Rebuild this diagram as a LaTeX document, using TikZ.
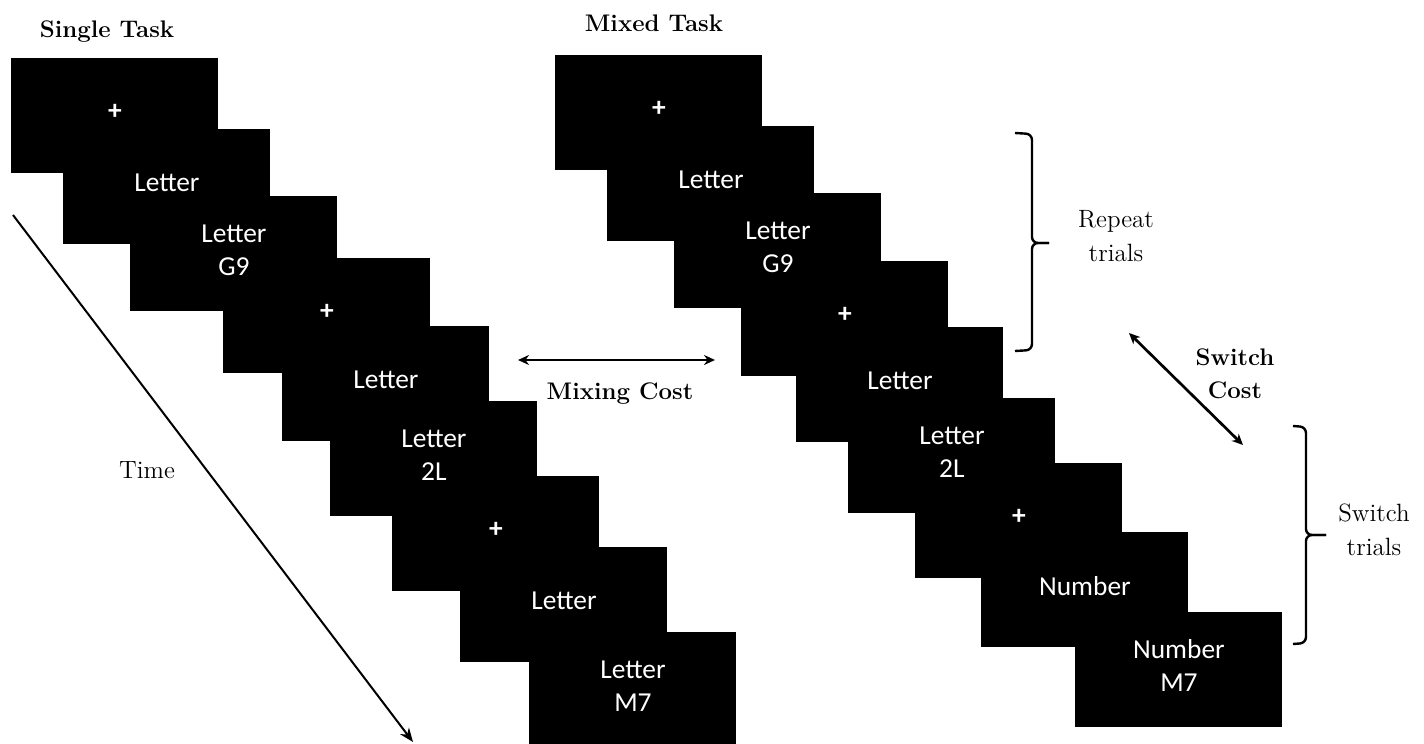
\documentclass[tikz,border=0pt]{standalone}
\usepackage{fontspec}
\setsansfont{Carlito}
\usepackage{tikz}
\usetikzlibrary{arrows.meta}
\definecolor{ink}  {HTML}{000000}
\definecolor{paper}{HTML}{FFFFFF}
\tikzset{
  screen/.style ={fill=ink, draw=none, inner sep=0pt, anchor=north west,
                  minimum width=103.5pt, minimum height=57.5pt},
  scrtxt/.style ={text=paper, inner sep=0pt, align=center,
                  font=\sffamily\fontsize{13.7}{16.5}\selectfont},
  head/.style   ={font=\bfseries\fontsize{12}{16.5}\selectfont, anchor=base},
  note/.style   ={font=\fontsize{12.5}{17}\selectfont, align=center, inner sep=0pt},
  bnote/.style  ={font=\bfseries\fontsize{12}{16.5}\selectfont, align=center, inner sep=0pt},
  arr/.style    ={-{Stealth[length=7pt,width=5.5pt]}, line width=1pt},
  dblarr/.style ={{Stealth[length=5.5pt,width=5pt]}-{Stealth[length=5.5pt,width=5pt]},
                  line width=1.35pt},
  bracket/.style={line width=1.2pt, rounded corners=3pt},
}
\begin{document}
\begin{tikzpicture}[x=0.5pt,y=-0.5pt]
  \useasboundingbox (0,0) rectangle (1424,744);

  % single task screens
  \foreach \bx/\by [count=\i] in {11/58,63/129,130/196,223/258,282/326,
                                  330/401,392/476,460/547,529/632}
    \node[screen] (L\i) at (\bx,\by) {};
  % mixed task screens
  \foreach \bx/\by [count=\i] in {555/55,607/126,674/193,741/261,796/327,
                                  848/398,915/463,981/532,1075/612}
    \node[screen] (R\i) at (\bx,\by) {};

  \foreach \i/\txt in {1/{\bfseries +},2/Letter,3/{Letter\\G9},4/{\bfseries +},
                       5/Letter,6/{Letter\\2L},7/{\bfseries +},8/Letter,9/{Letter\\M7}}
    \node[scrtxt] (Lt\i) at ([yshift=2pt]L\i.center) {\txt};
  \foreach \i/\txt in {1/{\bfseries +},2/Letter,3/{Letter\\G9},4/{\bfseries +},
                       5/Letter,6/{Letter\\2L},7/{\bfseries +},8/Number,9/{Number\\M7}}
    \node[scrtxt] (Rt\i) at ([yshift=2pt]R\i.center) {\txt};

  \node[head] (single) at (107,37) {Single Task};
  \node[head] (mixed)  at (654,32) {Mixed Task};

  % time axis
  \coordinate (t0) at (13,215);
  \coordinate (t1) at (413,742);
  \draw[arr] (t0) -- (t1);
  \node[note, anchor=base] (time) at (147,478) {Time};

  % mixing cost
  \coordinate (mixl) at (518,360);
  \coordinate (mixr) at (715,360);
  \draw[dblarr] (mixl) -- (mixr);
  \node[head] (mixing) at (620,399) {Mixing Cost};

  % brackets
  \draw[bracket] (1015,133) -- (1032,134) -- (1032,243) -- (1049,243);
  \draw[bracket] (1049,243) -- (1032,243) -- (1032,350) -- (1015,351);
  \node[note] (repeat) at (1116,236) {Repeat\\trials};

  \draw[bracket] (1293,426) -- (1306,427) -- (1306,535) -- (1326,535);
  \draw[bracket] (1326,535) -- (1306,535) -- (1306,643) -- (1293,644);
  \node[note] (switchtr) at (1374,530) {Switch\\trials};

  % switch cost
  \coordinate (sc0) at (1129,333);
  \coordinate (sc1) at (1243,445);
  \draw[dblarr] (sc0) -- (sc1);
  \node[bnote] (switchcost) at (1235,374) {Switch\\Cost};
\end{tikzpicture}
\end{document}
